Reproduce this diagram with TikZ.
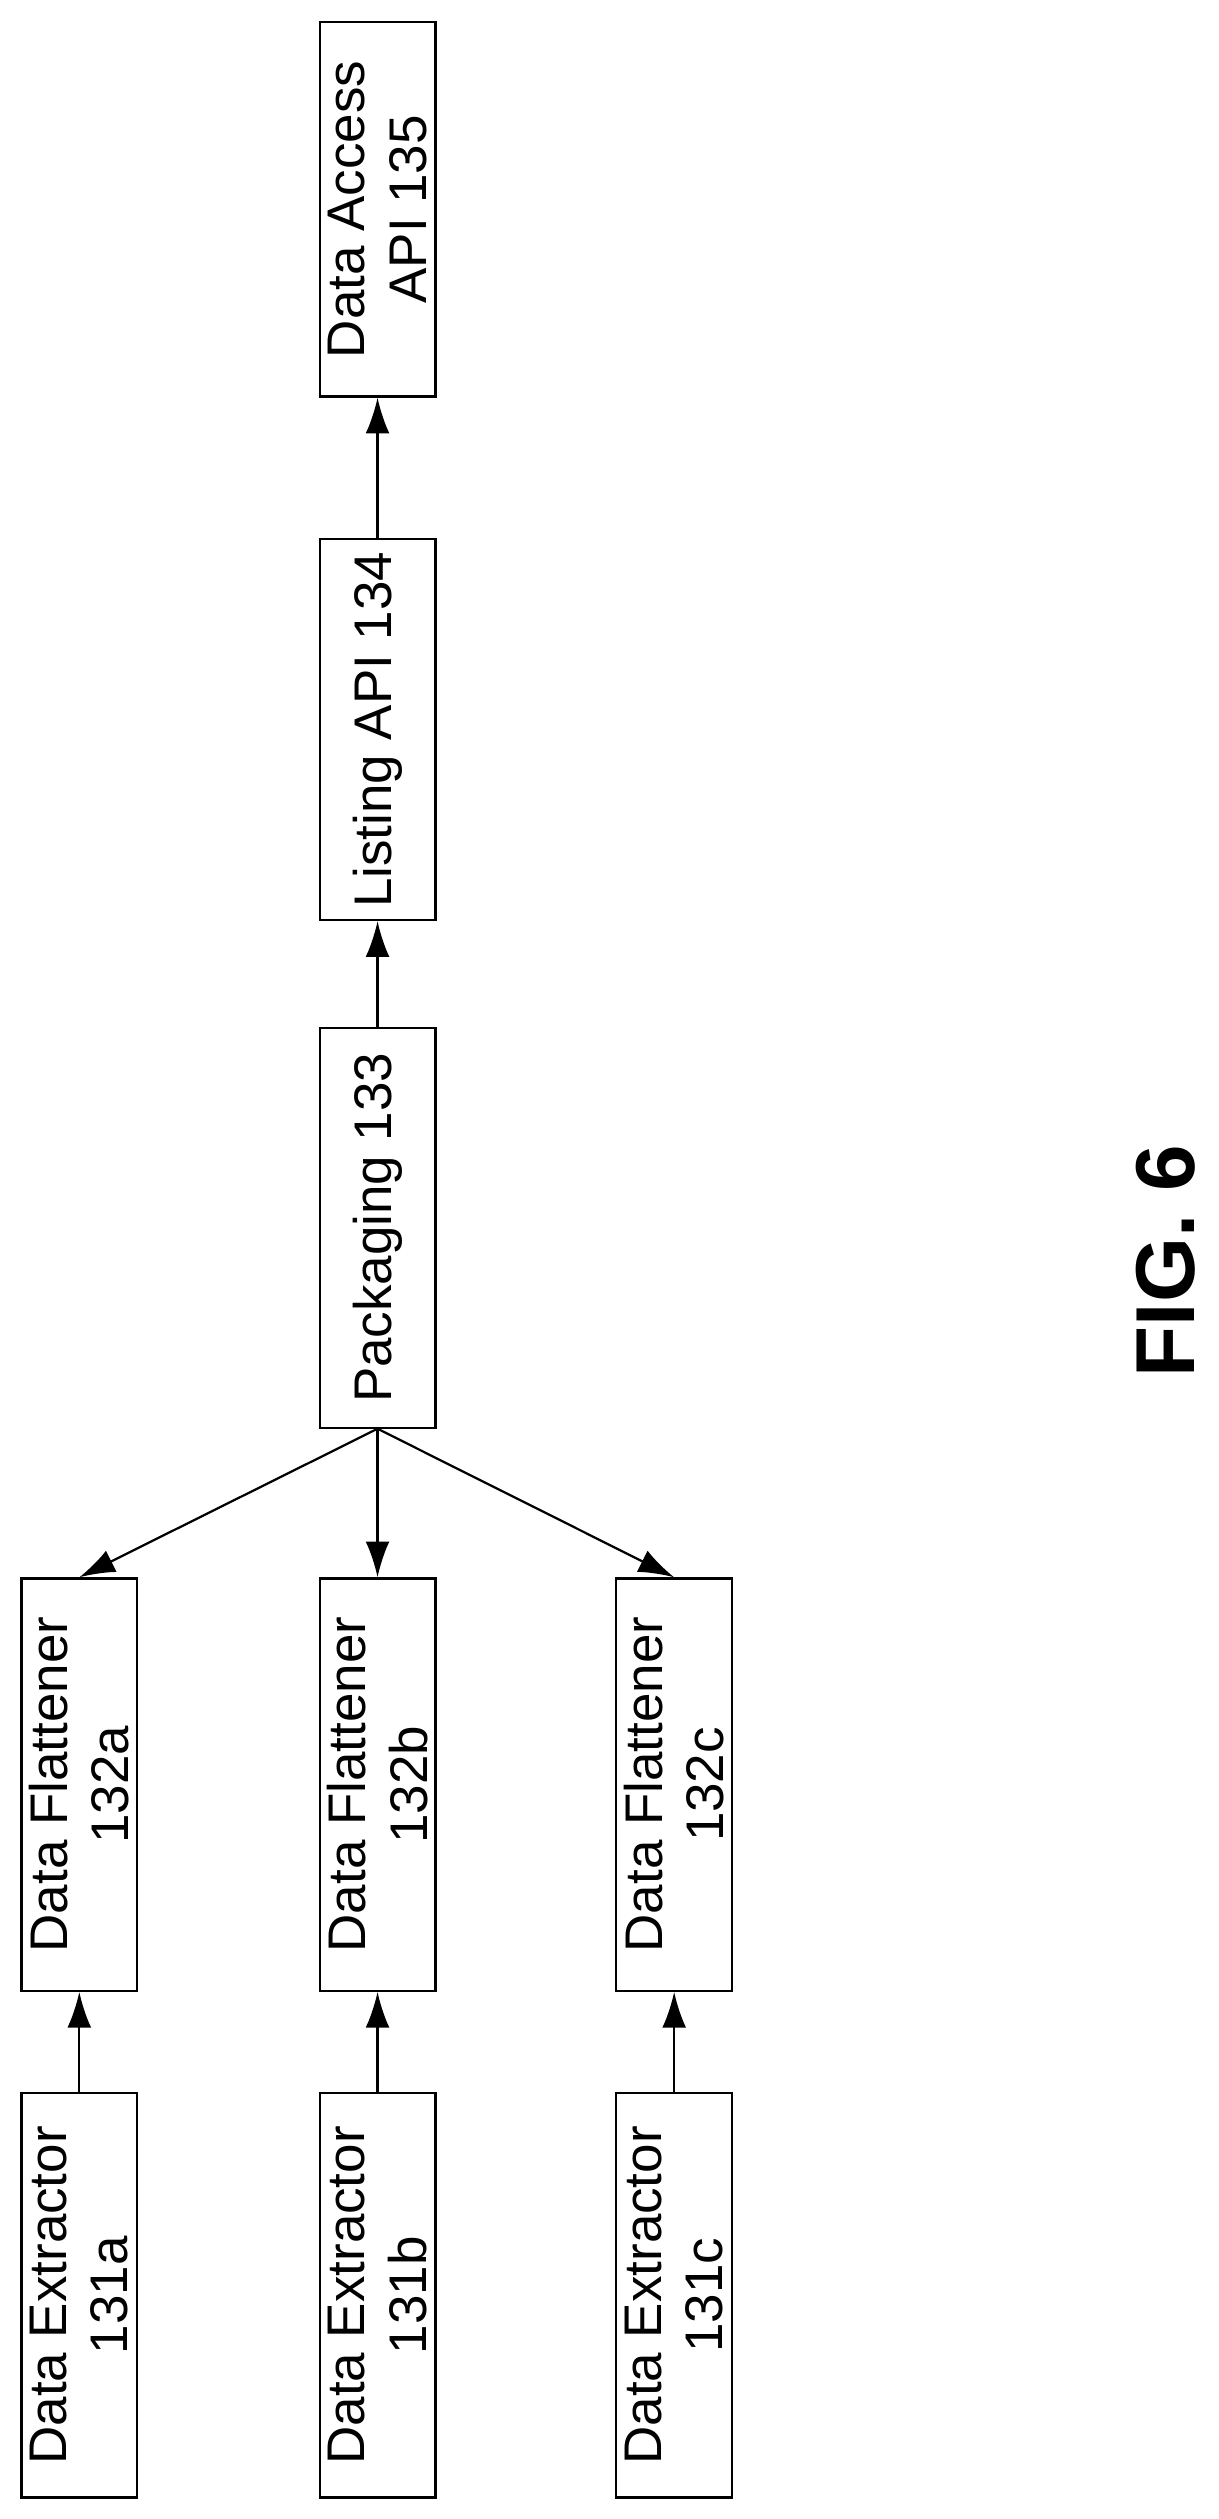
\documentclass[tikz,border=0pt]{standalone}
\usepackage{fontspec}
\setmainfont{Liberation Sans}
\usetikzlibrary{arrows.meta}
\tikzset{
  blk/.style={draw, thick, rotate=90, align=center, inner sep=0pt,
    minimum height=1.46cm, font=\fontsize{19}{22}\selectfont},
  arr/.style={thick, -{Latex[length=0.45cm,width=0.3cm]}}
}
\begin{document}
\begin{tikzpicture}[x=0.02cm, y=-0.02cm]

  \useasboundingbox (0,0) rectangle (768,1588);

  \node[blk, minimum width=5.1cm] (ext a) at (50, 1447) {Data Extractor\\131a};
  \node[blk, minimum width=5.1cm] (ext b) at (238, 1447) {Data Extractor\\131b};
  \node[blk, minimum width=5.1cm] (ext c) at (425, 1447) {Data Extractor\\131c};

  \node[blk, minimum width=5.2cm] (flat a) at (50, 1125) {Data Flattener\\132a};
  \node[blk, minimum width=5.2cm] (flat b) at (238, 1125) {Data Flattener\\132b};
  \node[blk, minimum width=5.2cm] (flat c) at (425, 1125) {Data Flattener\\132c};

  \node[blk, minimum width=5.04cm] (pack) at (238, 774) {Packaging 133};
  \node[blk, minimum width=4.8cm] (list) at (238, 460) {Listing API 134};
  \node[blk, minimum width=4.72cm] (access) at (238, 132) {Data Access\\API 135};

  \draw[arr] (ext a.east) -- (flat a.west);
  \draw[arr] (ext b.east) -- (flat b.west);
  \draw[arr] (ext c.east) -- (flat c.west);

  \draw[arr] (pack.west) -- (flat a.east);
  \draw[arr] (pack.west) -- (flat b.east);
  \draw[arr] (pack.west) -- (flat c.east);

  \draw[arr] (pack.east) -- (list.west);
  \draw[arr] (list.east) -- (access.west);

  \node[rotate=90, font=\fontsize{30}{34}\selectfont\bfseries] (fig) at (735, 795) {FIG. 6};
\end{tikzpicture}
\end{document}
